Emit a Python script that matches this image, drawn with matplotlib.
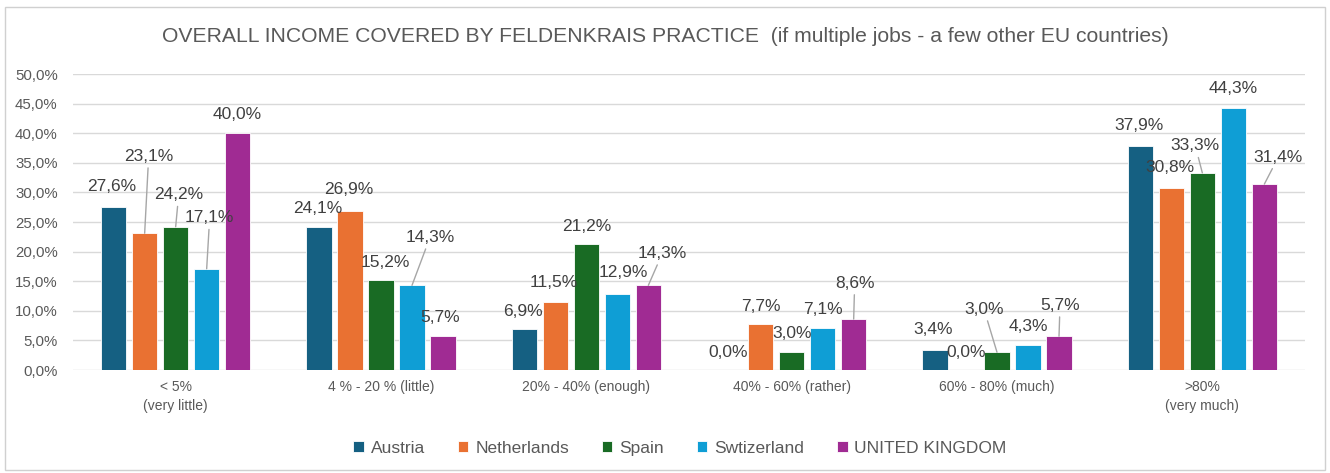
import matplotlib.pyplot as plt
import numpy as np
from matplotlib.patches import Rectangle

plt.rcParams['font.family'] = ['Liberation Sans Narrow', 'Liberation Sans', 'DejaVu Sans']

categories = ["< 5%\n(very little)", "4 % - 20 % (little)", "20% - 40% (enough)",
              "40% - 60% (rather)", "60% - 80% (much)", ">80%\n(very much)"]
countries = ["Austria", "Netherlands", "Spain", "Swtizerland", "UNITED KINGDOM"]
austria = [27.6, 24.1, 6.9, 0.0, 3.4, 37.9]
netherlands = [23.1, 26.9, 11.5, 7.7, 0.0, 30.8]
spain = [24.2, 15.2, 21.2, 3.0, 3.0, 33.3]
switzerland = [17.1, 14.3, 12.9, 7.1, 4.3, 44.3]
uk = [40.0, 5.7, 14.3, 8.6, 5.7, 31.4]
series = [austria, netherlands, spain, switzerland, uk]
colors = ["#156082", "#E97132", "#196B24", "#0F9ED5", "#A02B93"]

# label offsets in pixels (dx, dy, leader line) per series, per category
offsets = [
    [(-2, 20, 0), (-1, 19, 0), (-1, 18, 0), (-2, 18, 0), (-2, 20, 0), (-1, 20, 0)],
    [(4, 77, 1), (-1, 21, 0), (-2, 19, 0), (0, 18, 0), (0, 18, 0), (-1, 20, 0)],
    [(3, 32, 1), (4, 18, 0), (0, 18, 0), (0, 19, 0), (-13, 43, 1), (-7, 27, 1)],
    [(3, 51, 1), (18, 48, 1), (6, 21, 0), (0, 18, 0), (0, 18, 0), (0, 19, 0)],
    [(0, 19, 0), (-3, 19, 0), (14, 32, 1), (1, 36, 1), (1, 31, 1), (14, 27, 1)],
]

fig = plt.figure(figsize=(13.3, 4.73), dpi=100)
fig.patches.append(Rectangle((5 / 1330, 3 / 473), 1320 / 1330, 463 / 473,
                             transform=fig.transFigure, fill=False,
                             edgecolor="#D0D0D0", linewidth=1))
ax = fig.add_axes([73 / 1330, 103 / 473, 1232 / 1330, 296 / 473])

x = np.arange(len(categories))
width = 0.122
pitch = 0.151
for i, (vals, col, name) in enumerate(zip(series, colors, countries)):
    xs = x + (i - 2) * pitch
    ax.bar(xs, vals, width, color=col, label=name, zorder=3,
           edgecolor="white", linewidth=0.6)
    for j, v in enumerate(vals):
        dx, dy, lead = offsets[i][j]
        txt = f"{v:.1f}%".replace(".", ",")
        arrow = None
        if lead:
            arrow = dict(arrowstyle="-", color="#A6A6A6", lw=1.0,
                         shrinkA=1, shrinkB=0)
        ax.annotate(txt, (xs[j], v), xytext=(dx, dy), textcoords="offset pixels",
                    ha="center", va="center", fontsize=12.5, color="#404040",
                    arrowprops=arrow, zorder=5)

ax.set_xlim(-0.5, 5.5)
ax.set_ylim(0, 50)
ax.set_yticks(np.arange(0, 50.1, 5))
ax.set_yticklabels([f"{t:.1f}%".replace(".", ",") for t in np.arange(0, 50.1, 5)])
ax.set_xticks(x)
ax.set_xticklabels(categories, fontsize=10, color="#595959", linespacing=1.5)
ax.tick_params(axis="y", labelsize=10.8, colors="#595959", length=0, pad=11)
ax.tick_params(axis="x", length=0, pad=7)
ax.grid(axis="y", color="#D9D9D9", linewidth=1, zorder=0)
for s in ax.spines.values():
    s.set_visible(False)

fig.text(665 / 1330, 1 - 37 / 473,
         "OVERALL INCOME COVERED BY FELDENKRAIS PRACTICE  (if multiple jobs - a few other EU countries)",
         ha="center", va="center", fontsize=15.2, color="#595959")

ax.legend(loc="center", bbox_to_anchor=(680 / 1330, 1 - 448 / 473),
          bbox_transform=fig.transFigure, ncol=5, frameon=False,
          fontsize=12.5, handlelength=0.6, handleheight=0.6, handletextpad=0.4,
          columnspacing=1.9, labelcolor="#595959")

fig.savefig("out.png", dpi=100)
